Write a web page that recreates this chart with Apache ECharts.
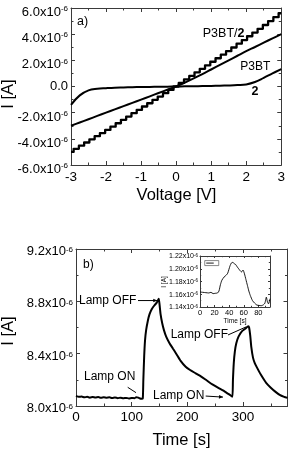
<!DOCTYPE html>
<html><head><meta charset="utf-8">
<script src="https://cdn.jsdelivr.net/npm/echarts@6/dist/echarts.min.js"></script>
<style>html,body{margin:0;padding:0;background:#fff}#c{width:288px;height:449px}</style>
</head><body><div id="c"></div>
<script>
// ---------- Panel a): I–V curves (current in units of 1e-6 A) ----------
const voltage   = [-3,-2.75,-2.5,-2.25,-2,-1.75,-1.5,-1.25,-1,-0.75,-0.5,-0.25,0,0.25,0.5,0.75,1,1.25,1.5,1.75,2,2.25,2.5,2.75,3];
const iP3BT     = [-3.0,-2.75,-2.5,-2.25,-2.0,-1.75,-1.5,-1.25,-1.0,-0.75,-0.5,-0.25,0,0.3,0.62,0.95,1.3,1.65,2.0,2.35,2.7,3.02,3.35,3.68,4.0];
const iTwo      = [-1.40,-0.68,-0.30,-0.18,-0.13,-0.09,-0.07,-0.05,-0.04,-0.03,-0.02,-0.01,0,0.01,0.02,0.03,0.04,0.06,0.08,0.11,0.16,0.34,0.66,1.0,1.33];
// P3BT/2 was recorded in small voltage steps (staircase look)
const voltageStep = [-3,-2.85,-2.7,-2.55,-2.4,-2.25,-2.1,-1.95,-1.8,-1.65,-1.5,-1.35,-1.2,-1.05,-0.9,-0.75,-0.6,-0.45,-0.3,-0.15,0,0.15,0.3,0.45,0.6,0.75,0.9,1.05,1.2,1.35,1.5,1.65,1.8,1.95,2.1,2.25,2.4,2.55,2.7,2.85,3];
const iP3BT2      = [-5.0,-4.76,-4.52,-4.28,-4.04,-3.8,-3.56,-3.32,-3.07,-2.81,-2.55,-2.3,-2.04,-1.79,-1.53,-1.28,-1.02,-0.77,-0.51,-0.26,0,0.27,0.54,0.81,1.08,1.35,1.62,1.89,2.16,2.43,2.7,2.98,3.27,3.55,3.84,4.12,4.41,4.7,5.0,5.3,5.6];

// ---------- Panel b): photocurrent vs time (current in units of 1e-6 A) ----------
const timeB = [0,5,10,15,20,25,30,35,40,45,50,55,60,65,70,75,80,85,90,95,100,105,108,112,115,118,120,
  121,122.5,124,126,129,132,136,141,145,148.6,
  150,152,155,158,162,168,174,180,188,197,205,215,225,235,245,255,265,272,278,281,
  282,283.5,285.5,288,292,298,304,309.6,
  311,313,315,318,321,325,332,342,350,358,366,374,380];
const currB = [8.078,8.070,8.072,8.066,8.070,8.064,8.069,8.065,8.068,8.063,8.067,8.064,8.066,8.061,8.065,8.060,8.064,8.059,8.062,8.058,8.061,8.060,8.066,8.064,8.057,8.056,8.058,
  8.20,8.38,8.50,8.58,8.65,8.70,8.74,8.77,8.79,8.82,
  8.78,8.70,8.63,8.58,8.53,8.48,8.44,8.40,8.345,8.30,8.275,8.25,8.225,8.195,8.165,8.14,8.117,8.097,8.08,8.07,
  8.20,8.33,8.42,8.48,8.53,8.57,8.59,8.61,
  8.60,8.54,8.45,8.37,8.33,8.295,8.24,8.175,8.14,8.11,8.085,8.07,8.062];

// ---------- Inset ----------
const timeIn = [0,4,8,12,15,18,21,24,26,28,30,33,36,38,41,43,45,47,49,51,53,55,57,59,61,63,65,67,69,72,75,78,81,84,87,89,91,92.5,94,96];
const currIn = [1.1635,1.163,1.1625,1.162,1.163,1.161,1.1615,1.162,1.165,1.175,1.182,1.187,1.190,1.193,1.204,1.209,1.210,1.208,1.2065,1.203,1.200,1.197,1.195,1.198,1.192,1.183,1.174,1.165,1.158,1.150,1.146,1.143,1.1425,1.142,1.1435,1.146,1.1555,1.148,1.145,1.153];

const FF = '"Liberation Sans", Arial, Helvetica, sans-serif';
const AX = '#3a3a3a';
const pairs = (xs, ys) => xs.map((x, i) => [x, ys[i]]);

function sciRich(fs, ss, pa, ps) {
  return {
    a: {fontFamily: FF, fontSize: fs, lineHeight: fs + 1, color: '#000', verticalAlign: 'top', padding: [pa, 0, 0, 0]},
    s: {fontFamily: FF, fontSize: ss, lineHeight: ss, color: '#000', verticalAlign: 'top', padding: [ps, 0, 0, 0]}
  };
}
function axis(o) {
  return {
    type: 'value', gridIndex: o.grid, position: o.pos, min: o.min, max: o.max, interval: o.interval,
    axisLine: {show: true, onZero: false, lineStyle: {color: AX, width: 1}},
    axisTick: {show: true, inside: true, length: o.tick || 4, lineStyle: {color: AX, width: 1}},
    minorTick: {show: true, splitNumber: 2, length: o.mtick || 2.5, lineStyle: {color: AX, width: 1}},
    splitLine: {show: false}, minorSplitLine: {show: false},
    axisLabel: o.label ? Object.assign({show: true, color: '#000', fontFamily: FF}, o.label) : {show: false}
  };
}
const fmt1 = v => Math.abs(v) < 1e-9 ? '0.0' : '{a|' + v.toFixed(1) + 'x10}{s|-6}';
const fmt2 = v => '{a|' + v.toFixed(2) + 'x10}{s|-6}';

const chart = echarts.init(document.getElementById('c'), null, {renderer: 'canvas'});
chart.setOption({
  animation: false,
  backgroundColor: '#fff',
  grid: [
    {left: 71, top: 8, width: 211, height: 157},
    {left: 76, top: 249, width: 211.5, height: 157},
    {left: 200, top: 256, width: 70, height: 51, show: true, backgroundColor: '#fff', borderWidth: 0, z: 5}
  ],
  xAxis: [
    axis({grid: 0, pos: 'bottom', min: -3, max: 3, interval: 1, label: {fontSize: 13.5, margin: 5}}),
    axis({grid: 0, pos: 'top', min: -3, max: 3, interval: 1}),
    axis({grid: 1, pos: 'bottom', min: 0, max: 380, interval: 100, label: {fontSize: 13.5, margin: 4, showMaxLabel: false}}),
    axis({grid: 1, pos: 'top', min: 0, max: 380, interval: 100}),
    Object.assign(axis({grid: 2, pos: 'bottom', min: 0, max: 96, interval: 20, tick: 2, mtick: 1.2, label: {fontSize: 7.5, margin: 2, showMaxLabel: false}}), {z: 6}),
    Object.assign(axis({grid: 2, pos: 'top', min: 0, max: 96, interval: 20, tick: 2, mtick: 1.2}), {z: 6})
  ],
  yAxis: [
    axis({grid: 0, pos: 'left', min: -6, max: 6, interval: 2, label: {fontSize: 13, margin: 3, formatter: fmt1, rich: sciRich(13, 8, 5, 4)}}),
    axis({grid: 0, pos: 'right', min: -6, max: 6, interval: 2}),
    axis({grid: 1, pos: 'left', min: 8.0, max: 9.2, interval: 0.4, label: {fontSize: 13, margin: 3, formatter: fmt1, rich: sciRich(13, 8, 3, 4)}}),
    axis({grid: 1, pos: 'right', min: 8.0, max: 9.2, interval: 0.4}),
    Object.assign(axis({grid: 2, pos: 'left', min: 1.14, max: 1.22, interval: 0.02, tick: 2, mtick: 1.2, label: {fontSize: 7, margin: 2, formatter: fmt2, rich: sciRich(7, 4.5, 1, 1)}}), {z: 6}),
    Object.assign(axis({grid: 2, pos: 'right', min: 1.14, max: 1.22, interval: 0.02, tick: 2, mtick: 1.2}), {z: 6})
  ],
  series: [
    {type: 'line', xAxisIndex: 0, yAxisIndex: 0, data: pairs(voltageStep, iP3BT2), showSymbol: false, step: 'middle', lineStyle: {color: '#000', width: 2.3, join: 'round'}},
    {type: 'line', xAxisIndex: 0, yAxisIndex: 0, data: pairs(voltage, iP3BT), showSymbol: false, smooth: 0.3, lineStyle: {color: '#000', width: 2}},
    {type: 'line', xAxisIndex: 0, yAxisIndex: 0, data: pairs(voltage, iTwo), showSymbol: false, smooth: 0.4, lineStyle: {color: '#000', width: 2}},
    {type: 'line', xAxisIndex: 2, yAxisIndex: 2, data: pairs(timeB, currB), showSymbol: false, smooth: 0.2, lineStyle: {color: '#000', width: 2}},
    {type: 'line', xAxisIndex: 4, yAxisIndex: 4, data: pairs(timeIn, currIn), showSymbol: false, smooth: 0.2, z: 7, lineStyle: {color: '#000', width: 0.9}}
  ]
});

// ---------- Annotations anchored to data coordinates ----------
const PA = (x, y) => chart.convertToPixel({xAxisIndex: 0, yAxisIndex: 0}, [x, y]);
const PB = (x, y) => chart.convertToPixel({xAxisIndex: 2, yAxisIndex: 2}, [x, y]);
const PI = (x, y) => chart.convertToPixel({xAxisIndex: 4, yAxisIndex: 4}, [x, y]);
function txt(p, text, size, opt) {
  opt = opt || {};
  return {type: 'text', x: p[0], y: p[1], rotation: opt.rot || 0, z: 20,
    style: {text: text, font: (opt.bold ? 'bold ' : '') + size + 'px ' + FF, fill: '#000',
      align: opt.align || 'left', verticalAlign: 'middle'}};
}
function seg(p1, p2, w) {
  return {type: 'line', z: 20, shape: {x1: p1[0], y1: p1[1], x2: p2[0], y2: p2[1]}, style: {stroke: '#000', lineWidth: w || 1}};
}
function head(p1, p2) {
  const dx = p2[0] - p1[0], dy = p2[1] - p1[1], L = Math.hypot(dx, dy), ux = dx / L, uy = dy / L;
  const b = [p2[0] - ux * 4, p2[1] - uy * 4];
  return {type: 'polygon', z: 20, shape: {points: [p2, [b[0] - uy * 1.8, b[1] + ux * 1.8], [b[0] + uy * 1.8, b[1] - ux * 1.8]]}, style: {fill: '#000'}};
}
const g = [];
// panel a
g.push(txt(PA(-2.83, 5.0), 'a)', 12.5));
g.push({type: 'text', z: 20, x: PA(0.76, 4.07)[0], y: PA(0.76, 4.07)[1],
  style: {text: '{n|P3BT/}{b|2}', verticalAlign: 'middle', rich: {n: {font: '12.5px ' + FF, fill: '#000'}, b: {font: 'bold 12.5px ' + FF, fill: '#000'}}}});
g.push(txt(PA(1.83, 1.51), 'P3BT', 12));
g.push(txt(PA(2.15, -0.36), '2', 12.5, {bold: true}));
// panel b
g.push(txt(PB(12.6, 9.082), 'b)', 12));
let a1 = PB(111.4, 8.806), a2 = PB(146, 8.806);
g.push(txt(PB(5.4, 8.803), 'Lamp OFF', 12));
g.push(seg(a1, a2)); g.push(head(a1, a2));
g.push(txt(PB(14.4, 8.224), 'Lamp ON', 12));
g.push(seg(PB(92.9, 8.143), PB(107.8, 8.102)));
g.push(txt(PB(170.1, 8.543), 'Lamp OFF', 12));
g.push(seg(PB(273.1, 8.543), PB(305.4, 8.604)));
let b1 = PB(233, 8.076), b2 = PB(264.1, 8.068);
g.push(txt(PB(138.3, 8.076), 'Lamp ON', 12));
g.push(seg(b1, b2)); g.push(head(b1, b2));
// axis titles
g.push(txt([176.5, 195], 'Voltage [V]', 16.5, {align: 'center'}));
g.push(txt([181.5, 440], 'Time [s]', 16.5, {align: 'center'}));
g.push(txt([8, 94], 'I [A]', 16.5, {align: 'center', rot: Math.PI / 2}));
g.push(txt([8, 331], 'I [A]', 16.5, {align: 'center', rot: Math.PI / 2}));
// inset titles and legend
g.push(txt([235, 321.5], 'Time [s]', 6.5, {align: 'center'}));
g.push(txt([164, 282], 'I [A]', 6.5, {align: 'center', rot: Math.PI / 2}));
const lg = PI(6.5, 1.2128);
g.push({type: 'rect', z: 21, shape: {x: lg[0], y: lg[1], width: 14, height: 5}, style: {fill: '#fff', stroke: '#555', lineWidth: 0.7}});
g.push({type: 'line', z: 22, shape: {x1: lg[0] + 1.5, y1: lg[1] + 2.5, x2: lg[0] + 9, y2: lg[1] + 2.5}, style: {stroke: '#000', lineWidth: 0.9}});
chart.setOption({graphic: g});
</script>
</body></html>
